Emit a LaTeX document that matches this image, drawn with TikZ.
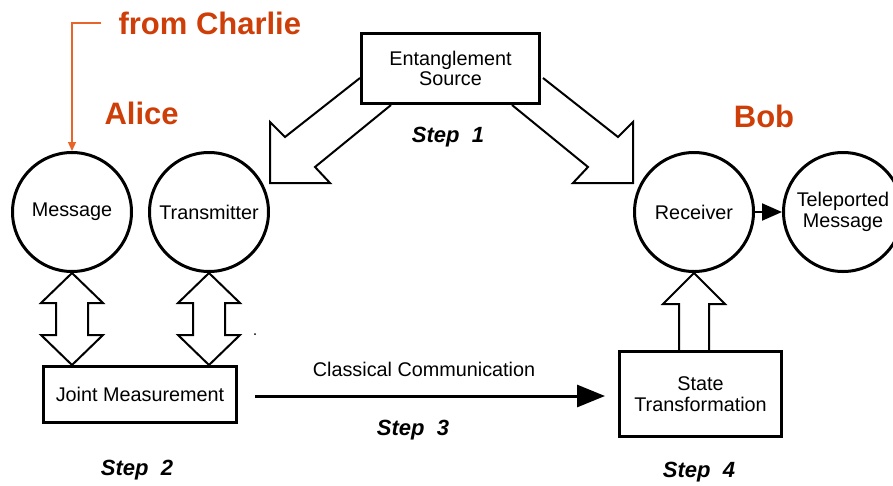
\documentclass[tikz,border=0pt]{standalone}
\usepackage{fontspec}
\setmainfont{Liberation Sans}
\usetikzlibrary{arrows.meta}
\definecolor{charlie}{RGB}{206,62,8}
\definecolor{charlieline}{RGB}{232,100,40}
\begin{document}
\begin{tikzpicture}[x=1pt,y=-1pt,
  txt/.style={font=\fontsize{19.8}{20.5}\selectfont, align=center},
  circ/.style={txt, circle, draw, line width=3pt, minimum size=119pt, inner sep=0pt},
  boxnode/.style={txt, draw, line width=3.5pt, inner sep=0pt, fill=white},
  blockarrow/.style={draw, line width=2pt, fill=white, line join=miter},
  steplabel/.style={font=\fontsize{22}{24}\selectfont\bfseries\itshape},
  person/.style={font=\fontsize{31}{33}\selectfont\bfseries, text=charlie},
]
\useasboundingbox (0,0) rectangle (893,485);

% Step 1 block arrows (drawn first, boxes cover their ends)
\draw[blockarrow] (360,78) -- (285,137) -- (270,122) -- (270,183) -- (330,183) -- (315,167) -- (391,105);
\draw[blockarrow] (543,78) -- (618,137) -- (633,122) -- (633,183) -- (573,183) -- (588,167) -- (512,105);

% Step 2 double arrows
\foreach \cx in {72, 209}{
  \draw[blockarrow] (\cx,273) -- ++(31,30) -- ++(-15,0) -- ++(0,32) -- ++(15,0)
    -- ++(-31,30) -- ++(-31,-30) -- ++(15,0) -- ++(0,-32) -- ++(-15,0) -- cycle;
}

% Step 4 up arrow
\draw[blockarrow] (679,352) -- (679,304) -- (663,304) -- (694,273) -- (725,304) -- (709,304) -- (709,352);

% circles
\node[circ] (msg) at (72,212) {Message};
\node[circ] (tra) at (209,212) {Transmitter};
\node[circ] (rec) at (694,212) {Receiver};
\node[circ] (tel) at (843,212) {Teleported\\Message};

% boxes
\node[boxnode, minimum width=178pt, minimum height=70pt] (ent) at (450.5,68.5) {Entanglement\\Source};
\node[boxnode, minimum width=193pt, minimum height=56pt] (jm) at (140,394.5) {Joint Measurement};
\node[boxnode, minimum width=162pt, minimum height=85pt] (st) at (700.5,394) {State\\Transformation};

% labels
\node[person, anchor=base west] (fc) at (115,34) {from Charlie};
\node[person, anchor=base west] (al) at (101,124) {Alice};
\node[person, anchor=base] (bob) at (764,127) {Bob};
\node[steplabel] (s1) at (448,137) {Step\ \ 1};
\node[steplabel] (s2) at (137,470) {Step\ \ 2};
\node[steplabel] (s3) at (413,430) {Step\ \ 3};
\node[steplabel] (s4) at (699,472) {Step\ \ 4};
\node[txt, anchor=base] (cc) at (424,376) {Classical Communication};
\node[circle, fill, inner sep=0pt, minimum size=2pt] (dot) at (255,334) {};

% classical communication
\coordinate (ccs) at (255,396);
\coordinate (cce) at (605,396);
\draw[line width=3pt, -{Triangle[length=28pt,width=22pt]}] (ccs) -- (cce);

% receiver to teleported
\draw[line width=2pt, -{Triangle[length=20pt,width=17pt]}] (rec.east) -- (tel.west);

% from Charlie
\coordinate (fcs) at (101,23);
\draw[charlieline, line width=1.2pt, -{Triangle[length=9pt,width=8pt]}] (fcs) -| (msg.north);
\end{tikzpicture}
\end{document}
